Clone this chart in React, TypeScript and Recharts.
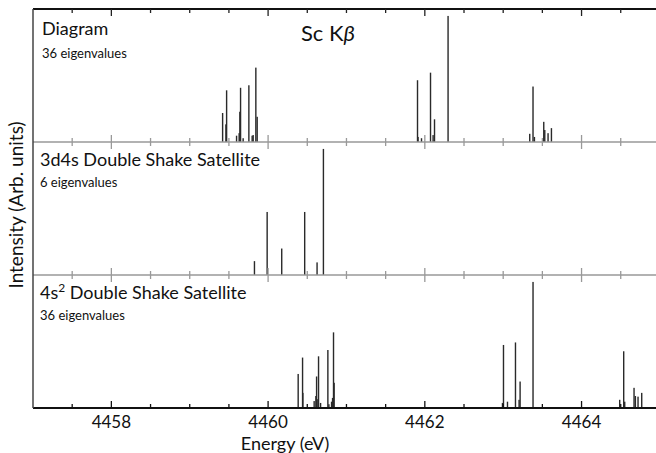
import { BarChart, Bar, XAxis, YAxis } from 'recharts';

// energy axis
const E_MIN = 4457;
const E_MAX = 4464.95;
const TICKS = [4457.5, 4458, 4458.5, 4459, 4459.5, 4460, 4460.5, 4461, 4461.5, 4462, 4462.5, 4463, 4463.5, 4464, 4464.5];
const LABELED_TICKS = [4458, 4460, 4462, 4464];

// Diagram (36 eigenvalues)
const DIAGRAM_E = [
  4459.42, 4459.462, 4459.471, 4459.598, 4459.631, 4459.64, 4459.649, 4459.682, 4459.755, 4459.797,
  4459.81, 4459.844, 4459.861, 4461.907, 4461.914, 4461.958, 4462.073, 4462.106, 4462.124, 4462.297,
  4463.339, 4463.381, 4463.399, 4463.518, 4463.531, 4463.573, 4463.616,
];
const DIAGRAM_I = [
  0.23, 0.14, 0.41, 0.05, 0.07, 0.24, 0.43, 0.03, 0.45, 0.05,
  0.055, 0.59, 0.2, 0.49, 0.04, 0.03, 0.55, 0.055, 0.18, 1.0,
  0.065, 0.44, 0.04, 0.16, 0.095, 0.07, 0.11,
];

// 3d4s double shake satellite (6 eigenvalues)
const SAT_3D4S_E = [4459.832, 4459.994, 4460.18, 4460.473, 4460.631, 4460.712];
const SAT_3D4S_I = [0.11, 0.5, 0.21, 0.5, 0.1, 1.0];

// 4s2 double shake satellite (36 eigenvalues)
const SAT_4S2_E = [
  4460.384, 4460.44, 4460.444, 4460.588, 4460.61, 4460.619, 4460.626, 4460.644, 4460.67, 4460.763,
  4460.776, 4460.81, 4460.823, 4460.835, 4460.843, 4462.991, 4463.004, 4463.055, 4463.157, 4463.203,
  4463.216, 4463.381, 4464.487, 4464.538, 4464.551, 4464.67, 4464.687, 4464.721, 4464.768,
];
const SAT_4S2_I = [
  0.27, 0.4, 0.12, 0.055, 0.095, 0.25, 0.07, 0.41, 0.04, 0.46,
  0.03, 0.05, 0.08, 0.6, 0.2, 0.04, 0.5, 0.05, 0.52, 0.065,
  0.21, 1.0, 0.065, 0.45, 0.05, 0.16, 0.095, 0.09, 0.12,
];

const toRows = (es: number[], is: number[]) => es.map((e, i) => ({ e, v: is[i] }));

const W = 656;
const H = 453;
const FONT = 'Lato, "Open Sans", sans-serif';

function makeTick(dir: number, color: string, labels: boolean) {
  return (props: any) => {
    const { x, y, payload } = props;
    const major = LABELED_TICKS.includes(payload.value);
    const len = major ? 7 : 4;
    return (
      <g>
        <line x1={x} x2={x} y1={y} y2={y + dir * len} stroke={color} strokeWidth={1.3} />
        {labels && major && (
          <text x={x} y={y + 20} textAnchor="middle" fontFamily={FONT} fontSize={17} fill="#111">
            {payload.value}
          </text>
        )}
      </g>
    );
  };
}

// thin stick centred on the bar's slot
function Stick(props: any) {
  const { x, y, width, height } = props;
  if (!height || height <= 0) return null;
  const cx = x + width / 2;
  return <rect x={cx - 0.7} y={y} width={1.4} height={height} fill="#2a2a2a" />;
}

interface PanelProps {
  rows: { e: number; v: number }[];
  top: number;
  bottom: number;
  topLine: string | null;
  topTick: string;
  bottomLine: string;
  bottomWidth: number;
  labels: boolean;
}

function Panel({ rows, top, bottom, topLine, topTick, bottomLine, bottomWidth, labels }: PanelProps) {
  return (
    <div style={{ position: 'absolute', left: 0, top: 0 }}>
      <BarChart width={W} height={H} data={rows} margin={{ top: top - 1, bottom: H - bottom - 1, left: 32, right: 0 }}>
        <XAxis
          xAxisId="b"
          dataKey="e"
          type="number"
          domain={[E_MIN, E_MAX]}
          allowDataOverflow
          ticks={TICKS}
          height={1}
          tickSize={0}
          tickMargin={0}
          tickLine={false}
          axisLine={{ stroke: bottomLine, strokeWidth: bottomWidth }}
          tick={makeTick(-1, bottomLine, labels)}
          interval={0}
        />
        <XAxis
          xAxisId="t"
          orientation="top"
          dataKey="e"
          type="number"
          domain={[E_MIN, E_MAX]}
          allowDataOverflow
          ticks={TICKS}
          height={1}
          tickSize={0}
          tickMargin={0}
          tickLine={false}
          axisLine={topLine ? { stroke: topLine, strokeWidth: 2 } : false}
          tick={makeTick(1, topTick, false)}
          interval={0}
        />
        <YAxis
          domain={[0, 1.055]}
          width={1}
          tick={false}
          tickLine={false}
          axisLine={{ stroke: '#444', strokeWidth: 1.5 }}
        />
        <Bar xAxisId="b" dataKey="v" fill="#2a2a2a" barSize={1.4} shape={Stick} isAnimationActive={false} />
      </BarChart>
    </div>
  );
}

export default function App() {
  return (
    <div style={{ position: 'absolute', left: 0, top: 0, width: W, height: H, background: '#fff', overflow: 'hidden' }}>
      <Panel rows={toRows(DIAGRAM_E, DIAGRAM_I)} top={9} bottom={142} topLine="#111" topTick="#222" bottomLine="#999" bottomWidth={1.5} labels={false} />
      <Panel rows={toRows(SAT_3D4S_E, SAT_3D4S_I)} top={142} bottom={275} topLine={null} topTick="#999" bottomLine="#999" bottomWidth={1.5} labels={false} />
      <Panel rows={toRows(SAT_4S2_E, SAT_4S2_I)} top={275} bottom={408} topLine={null} topTick="#999" bottomLine="#111" bottomWidth={2} labels />
      <svg width={W} height={H} style={{ position: 'absolute', left: 0, top: 0, pointerEvents: 'none' }} fontFamily={FONT} fill="#111">
        <text x={42} y={35} fontSize={18}>Diagram</text>
        <text x={42} y={58} fontSize={13}>36 eigenvalues</text>
        <text x={301} y={41} fontSize={22}>
          Sc K<tspan fontStyle="italic">β</tspan>
        </text>
        <text x={40} y={166} fontSize={18}>3d4s Double Shake Satellite</text>
        <text x={40} y={187} fontSize={13}>6 eigenvalues</text>
        <text x={40} y={299} fontSize={18}>
          4s<tspan fontSize={12} dy={-7}>2</tspan>
          <tspan dy={7}> Double Shake Satellite</tspan>
        </text>
        <text x={40} y={320} fontSize={13}>36 eigenvalues</text>
        <text transform="translate(23,205) rotate(-90)" textAnchor="middle" fontSize={19}>
          Intensity (Arb. units)
        </text>
        <text x={285} y={450} textAnchor="middle" fontSize={18}>Energy (eV)</text>
      </svg>
    </div>
  );
}
